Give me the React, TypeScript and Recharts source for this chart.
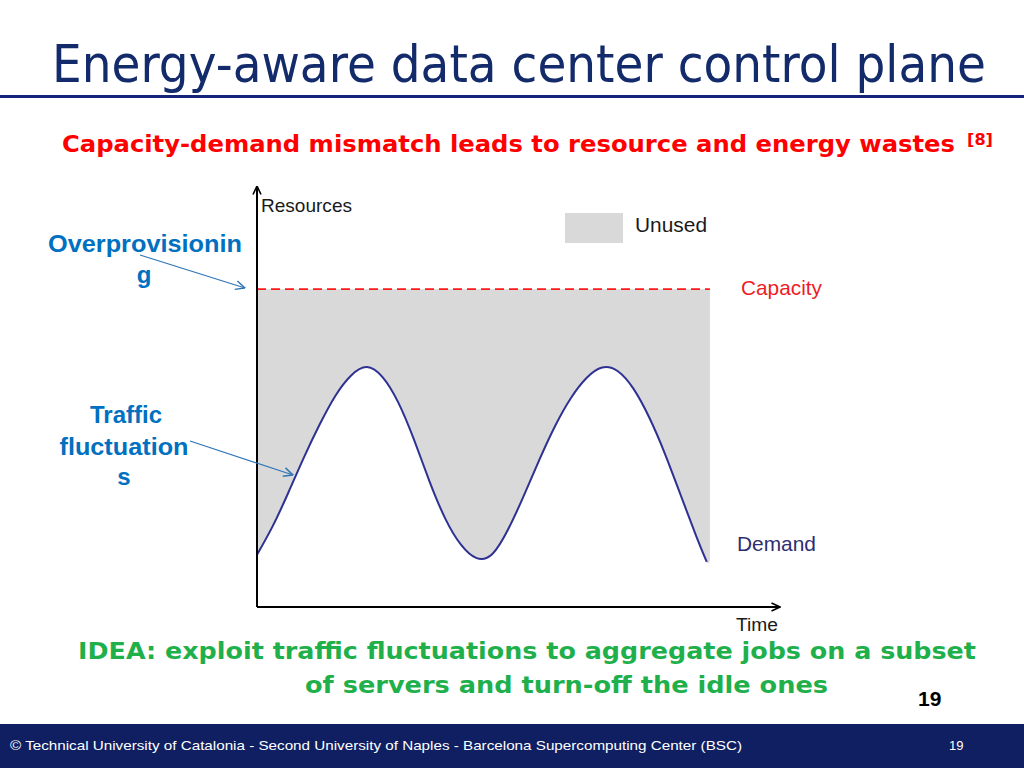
import { Area, ComposedChart, Line, XAxis, YAxis } from "recharts";

// time samples (x axis, 0..100) and the demand curve
const TIME = [0, 3, 6, 9, 12, 15, 18, 21, 24, 27, 30, 33, 36, 39, 42, 45, 48, 51, 54, 57, 60, 63, 66, 69, 72, 75, 78, 81, 84, 86];
const DEMAND = [12.4, 19.2, 27.2, 35.6, 43.4, 50.2, 55.0, 57.0, 54.6, 48.6, 39.8, 29.8, 21.0, 14.8, 11.6, 12.6, 18.4, 26.4, 35.0, 43.0, 49.6, 54.4, 56.9, 56.0, 51.8, 45.0, 36.4, 26.6, 16.8, 10.7];
const CAPACITY = 75.5;
// the grey "unused" band stops a little after the demand curve
const UNUSED_END = { time: 86.6, low: 11.2 };

const AXIS_DOMAIN: [number, number] = [0, 100];

const rows: any[] = TIME.map((t, i) => ({
  time: t,
  demand: DEMAND[i],
  capacity: CAPACITY,
  unused: [DEMAND[i], CAPACITY],
}));
rows.push({ time: UNUSED_END.time, demand: null, capacity: CAPACITY, unused: [UNUSED_END.low, CAPACITY] });

const COMIC = "'DejaVu Sans', sans-serif";
const ARIAL = "'Liberation Sans', Arial, sans-serif";

export default function App() {
  return (
    <div style={{ position: "absolute", left: 0, top: 0, width: 1024, height: 768, background: "#fff", overflow: "hidden" }}>
      <div style={{ position: "absolute", left: 0, top: 0 }}>
        <ComposedChart width={1024} height={768} data={rows} margin={{ top: 186, left: 256, right: 244, bottom: 160 }}>
          <defs>
            <marker id="axisHead" viewBox="0 0 10 10" refX="9.5" refY="5" markerWidth="10" markerHeight="10" markerUnits="userSpaceOnUse" orient="auto-start-reverse">
              <path d="M1,1 L9.5,5 L1,9" fill="none" stroke="#000" strokeWidth="1.6" />
            </marker>
          </defs>
          <XAxis
            type="number"
            dataKey="time"
            domain={AXIS_DOMAIN}
            tick={false}
            tickLine={false}
            height={1}
            axisLine={{ stroke: "#000", strokeWidth: 2, markerEnd: "url(#axisHead)" }}
          />
          <YAxis
            type="number"
            domain={AXIS_DOMAIN}
            tick={false}
            tickLine={false}
            width={1}
            axisLine={{ stroke: "#000", strokeWidth: 2, markerStart: "url(#axisHead)" }}
          />
          <Area type="natural" dataKey="unused" fill="#d9d9d9" fillOpacity={1} stroke="none" isAnimationActive={false} />
          <Line type="linear" dataKey="capacity" stroke="#ff1a1a" strokeWidth={1.6} strokeDasharray="9 5" dot={false} isAnimationActive={false} />
          <Line type="natural" dataKey="demand" stroke="#2e3192" strokeWidth={2} dot={false} isAnimationActive={false} />
        </ComposedChart>
      </div>

      <svg width={1024} height={768} style={{ position: "absolute", left: 0, top: 0, pointerEvents: "none" }}>
        <defs>
          <marker id="blueHead" viewBox="0 0 10 10" refX="9.5" refY="5" markerWidth="11" markerHeight="11" markerUnits="userSpaceOnUse" orient="auto">
            <path d="M1,1 L9.5,5 L1,9" fill="none" stroke="#2e75b6" strokeWidth="1.3" />
          </marker>
        </defs>

        {/* slide title */}
        <text transform="translate(52,82) scale(0.904,1)" x={0} y={0} fontFamily={COMIC} fontSize={52} fill="#132a6b">
          Energy-aware data center control plane
        </text>
        <rect x={0} y={95} width={1024} height={3} fill="#16237a" />

        <text x={62} y={152} fontFamily={COMIC} fontSize={23} fontWeight="bold" fill="#ff0000" textLength={893} lengthAdjust="spacingAndGlyphs">
          Capacity-demand mismatch leads to resource and energy wastes
        </text>
        <text x={967} y={145} fontFamily={COMIC} fontSize={15} fontWeight="bold" fill="#ff0000" textLength={26} lengthAdjust="spacingAndGlyphs">
          [8]
        </text>

        {/* chart labels */}
        <text x={261} y={212} fontFamily={ARIAL} fontSize={19} fill="#1a1a1a" textLength={91} lengthAdjust="spacingAndGlyphs">Resources</text>
        <text x={736} y={631} fontFamily={ARIAL} fontSize={18} fill="#1a1a1a" textLength={42} lengthAdjust="spacingAndGlyphs">Time</text>
        <rect x={565} y={213} width={58} height={30} fill="#d9d9d9" />
        <text x={635} y={232} fontFamily={ARIAL} fontSize={21} fill="#1a1a1a" textLength={72} lengthAdjust="spacingAndGlyphs">Unused</text>
        <text x={741} y={295} fontFamily={ARIAL} fontSize={21} fill="#ee1c25" textLength={81} lengthAdjust="spacingAndGlyphs">Capacity</text>
        <text x={737} y={551} fontFamily={ARIAL} fontSize={21} fill="#2e2e6e" textLength={79} lengthAdjust="spacingAndGlyphs">Demand</text>

        {/* annotations */}
        <g fontFamily={ARIAL} fontSize={24} fontWeight="bold" fill="#0070c0" textAnchor="middle">
          <text x={145} y={252} textLength={194} lengthAdjust="spacingAndGlyphs">Overprovisionin</text>
          <text x={144} y={283}>g</text>
          <text x={126} y={423}>Traffic</text>
          <text x={124} y={455} textLength={129} lengthAdjust="spacingAndGlyphs">fluctuation</text>
          <text x={124} y={485}>s</text>
        </g>
        <line x1={140} y1={255} x2={245} y2={288} stroke="#2e75b6" strokeWidth={1.2} markerEnd="url(#blueHead)" />
        <line x1={190} y1={441} x2={293} y2={475} stroke="#2e75b6" strokeWidth={1.2} markerEnd="url(#blueHead)" />

        {/* idea */}
        <text x={78} y={659} fontFamily={COMIC} fontSize={23} fontWeight="bold" fill="#1fb04c" textLength={898} lengthAdjust="spacingAndGlyphs">
          IDEA: exploit traffic fluctuations to aggregate jobs on a subset
        </text>
        <text x={305} y={693} fontFamily={COMIC} fontSize={23} fontWeight="bold" fill="#1fb04c" textLength={523} lengthAdjust="spacingAndGlyphs">
          of servers and turn-off the idle ones
        </text>
        <text x={918} y={706} fontFamily={ARIAL} fontSize={21} fontWeight="bold" fill="#000">19</text>

        {/* footer band */}
        <rect x={0} y={724} width={1024} height={44} fill="#0f1f62" />
        <text x={10} y={750} fontFamily={ARIAL} fontSize={13} fill="#fff" textLength={732} lengthAdjust="spacingAndGlyphs">
          © Technical University of Catalonia - Second University of Naples - Barcelona Supercomputing Center (BSC)
        </text>
        <text x={949} y={750} fontFamily={ARIAL} fontSize={13} fill="#fff">19</text>
      </svg>
    </div>
  );
}
